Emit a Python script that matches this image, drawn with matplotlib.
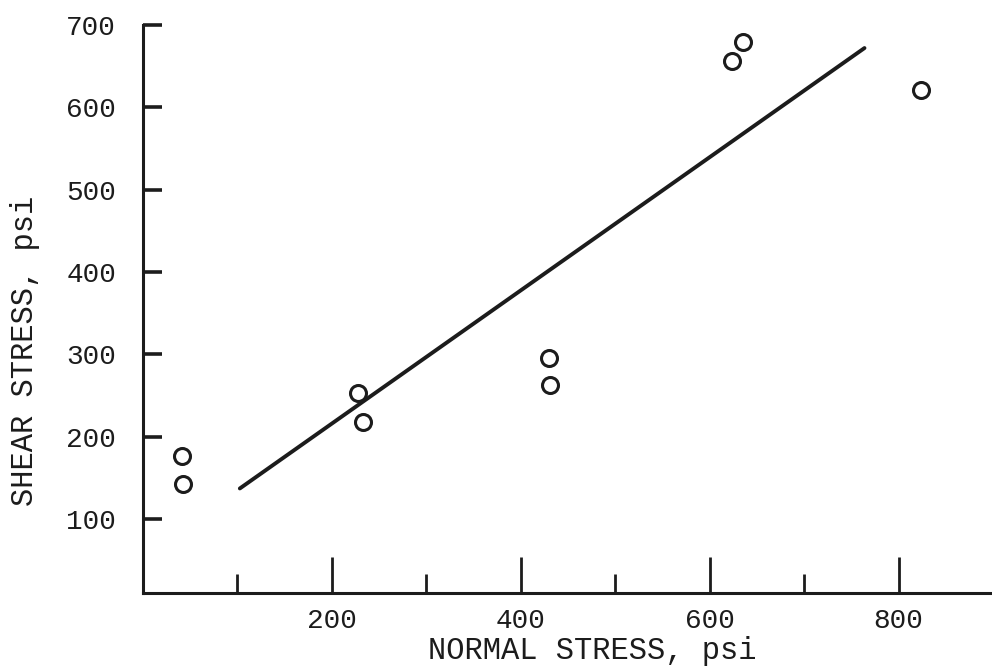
import matplotlib
matplotlib.use("Agg")
import matplotlib.pyplot as plt
from matplotlib.ticker import FixedLocator

# Data
normal_stress = [42, 43, 228, 233, 430, 431, 624, 635, 824]
shear_stress = [177, 142, 253, 218, 296, 263, 656, 679, 621]
fit_x = [103, 764]
fit_y = [137, 672]

x_major = [200, 400, 600, 800]
x_minor = [100, 300, 500, 700, 900]
y_ticks = [100, 200, 300, 400, 500, 600, 700]

ink = "#1c1c1c"
font = ["Liberation Mono", "DejaVu Sans Mono"]

fig = plt.figure(figsize=(9.92, 6.66), dpi=100)
ax = fig.add_axes([142.5 / 992, 73 / 666, 850.5 / 992, 568 / 666])

ax.plot(fit_x, fit_y, color=ink, lw=2.8, solid_capstyle="round", zorder=2)
ax.plot(normal_stress, shear_stress, linestyle="none", marker="o",
        markersize=11.5, markerfacecolor="none", markeredgecolor=ink,
        markeredgewidth=2.2, zorder=3)

ax.set_xlim(0, 900)
ax.set_ylim(10, 700)

for s in ("top", "right"):
    ax.spines[s].set_visible(False)
for s in ("left", "bottom"):
    ax.spines[s].set_linewidth(2.2)
    ax.spines[s].set_color(ink)

ax.xaxis.set_major_locator(FixedLocator(x_major))
ax.xaxis.set_minor_locator(FixedLocator(x_minor))
ax.yaxis.set_major_locator(FixedLocator(y_ticks))
ax.set_xticklabels([str(v) for v in x_major])
ax.set_yticklabels([str(v) for v in y_ticks])

ax.tick_params(axis="x", which="major", direction="in", length=26, width=2.0,
               color=ink, pad=11, labelsize=20, labelcolor=ink)
ax.tick_params(axis="x", which="minor", direction="in", length=14, width=2.0,
               color=ink)
ax.tick_params(axis="y", which="major", direction="in", length=14, width=2.6,
               color=ink, pad=19, labelsize=20, labelcolor=ink)
for lbl in ax.get_xticklabels() + ax.get_yticklabels():
    lbl.set_family(font)

ax.set_xlabel("NORMAL STRESS, psi", fontsize=22, color=ink, family=font)
ax.set_ylabel("SHEAR STRESS, psi", fontsize=22, color=ink, family=font)
ax.xaxis.set_label_coords(0.529, -0.102)
ax.xaxis.label.set_verticalalignment("center")
ax.yaxis.set_label_coords(-0.138, 0.426)
ax.yaxis.label.set_verticalalignment("center")

fig.savefig("out.png", dpi=100, facecolor="white")
